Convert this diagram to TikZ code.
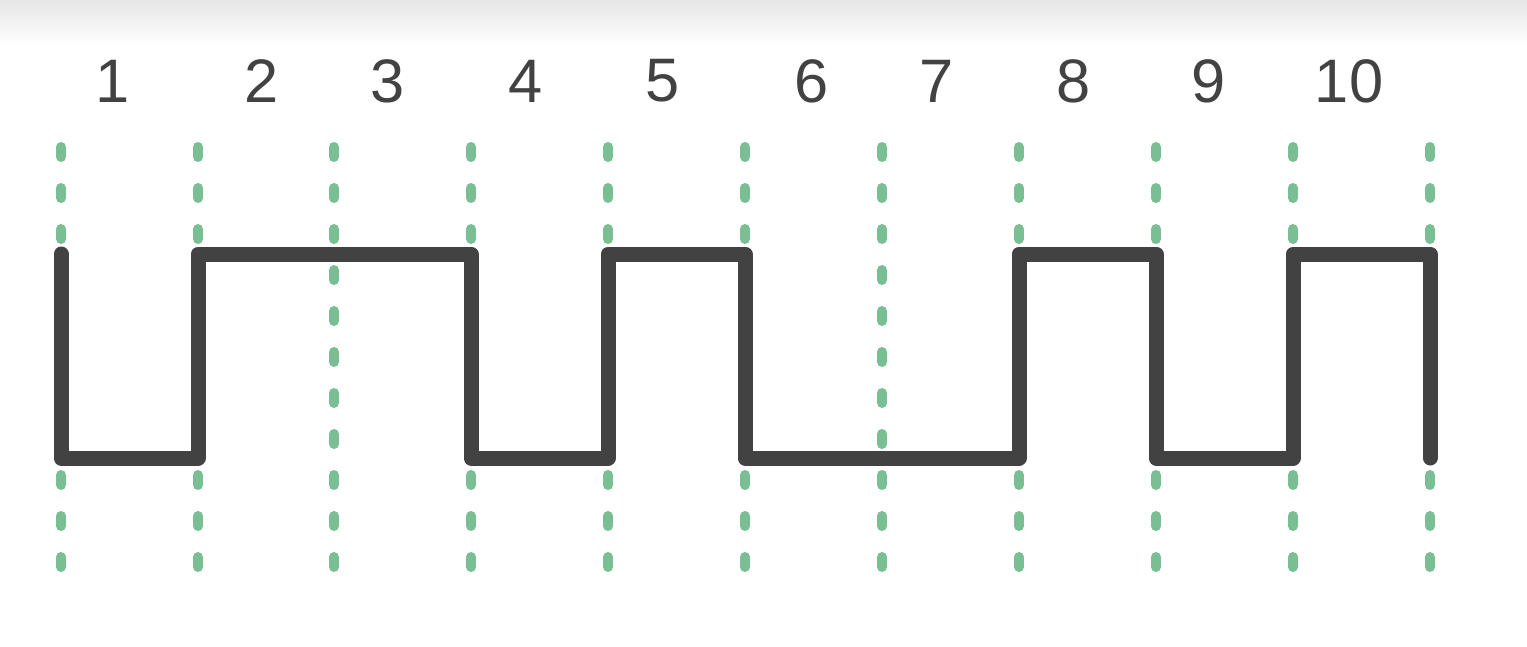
\documentclass[tikz,border=0pt]{standalone}
\usepackage{fontspec}
\setmainfont{Liberation Sans}
\definecolor{wavegray}{RGB}{66,66,66}
\definecolor{gridgreen}{RGB}{122,190,148}
\definecolor{topgray}{RGB}{230,230,230}
\begin{document}
\begin{tikzpicture}[x=0.5pt,y=-0.5pt,
  gridline/.style={draw=gridgreen,line width=5pt,line cap=round,dash pattern=on 5pt off 15.5pt},
  wave/.style={draw=wavegray,line width=7.5pt,line cap=round,line join=round},
  numlabel/.style={text=wavegray,font=\fontsize{30.7}{36}\selectfont,inner sep=0pt,anchor=center}]
\useasboundingbox (0,0) rectangle (1527,647);
\fill[white] (0,0) rectangle (1527,647);
\shade[top color=topgray,bottom color=white] (0,0) rectangle (1527,46);
% grid x positions
\foreach \i/\x in {0/61,1/198,2/334,3/471,4/608,5/745,6/882,7/1019,8/1156,9/1293,10/1430}{
  \coordinate (t\i) at (\x,147);
  \coordinate (b\i) at (\x,575);
  \coordinate (h\i) at (\x,254);
  \coordinate (l\i) at (\x,458);
  \draw[gridline] (t\i) -- (b\i);
}
% labels
\foreach \n/\x in {1/113,2/262,3/388,4/526,5/663,6/812,7/937,8/1074,9/1209,10/1349}{
  \node[numlabel] (lab\n) at (\x,81) {\n};
}
% square wave
\draw[wave] (h0) -- (l0) -- (l1) -- (h1) -- (h3) -- (l3) -- (l4) -- (h4) -- (h5) -- (l5)
  -- (l7) -- (h7) -- (h8) -- (l8) -- (l9) -- (h9) -- (h10) -- (l10);
\end{tikzpicture}
\end{document}
